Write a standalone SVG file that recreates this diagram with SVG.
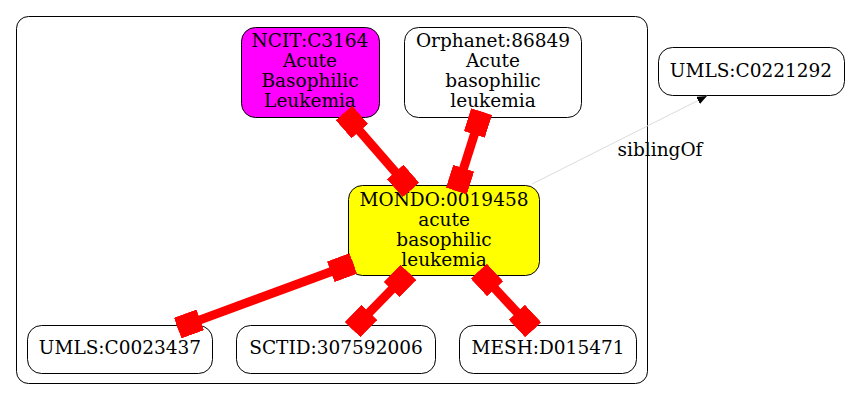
<svg xmlns="http://www.w3.org/2000/svg" width="851" height="400" viewBox="0 0 851 400">
<style>
text{font-family:"DejaVu Serif",serif;font-size:18.5px;text-anchor:middle;fill:#000}
.n{stroke:#000;stroke-width:1}
.e{stroke:#f00;stroke-width:9;fill:none}
</style>
<defs>
<marker id="blk" viewBox="-24 -11 24 22" markerWidth="24" markerHeight="22" refX="0" refY="0" orient="auto-start-reverse" markerUnits="userSpaceOnUse">
<rect x="-24" y="-11" width="24" height="22" fill="#f00"/>
</marker>
<marker id="arr" viewBox="-10 -4 10 8" markerWidth="10" markerHeight="8" refX="0" refY="0" orient="auto" markerUnits="userSpaceOnUse">
<path d="M-10,-4 L0,0 L-10,4 Z" fill="#000"/>
</marker>
</defs>
<rect x="16.5" y="16.5" width="631" height="367" rx="12" fill="none" stroke="#000" stroke-width="1"/>
<g id="ncit"><rect class="n" x="241.5" y="27.5" width="138" height="90" rx="14" fill="#f0f"/>
<text x="310" y="47">NCIT:C3164</text><text x="310" y="67">Acute</text><text x="310" y="87">Basophilic</text><text x="310" y="107">Leukemia</text></g>
<g id="orphanet"><rect class="n" x="404.5" y="27.5" width="177" height="90" rx="14" fill="#fff"/>
<text x="493" y="47">Orphanet:86849</text><text x="493" y="67">Acute</text><text x="493" y="87">basophilic</text><text x="493" y="107">leukemia</text></g>
<g id="mondo"><rect class="n" x="348.5" y="185.5" width="191" height="90" rx="14" fill="#ff0"/>
<text x="444" y="206">MONDO:0019458</text><text x="444" y="226">acute</text><text x="444" y="246">basophilic</text><text x="444" y="266">leukemia</text></g>
<g id="umls1"><rect class="n" x="27.5" y="325.5" width="185" height="48" rx="14" fill="#fff"/>
<text x="120" y="354">UMLS:C0023437</text></g>
<g id="sctid"><rect class="n" x="236.5" y="325.5" width="199" height="48" rx="14" fill="#fff"/>
<text x="336" y="354">SCTID:307592006</text></g>
<g id="mesh"><rect class="n" x="459.5" y="325.5" width="177" height="48" rx="14" fill="#fff"/>
<text x="548" y="354">MESH:D015471</text></g>
<g id="umls2"><rect class="n" x="658.5" y="47.5" width="186" height="48" rx="14" fill="#fff"/>
<text x="751" y="77">UMLS:C0221292</text></g>
<g id="edges">
<line class="e" x1="344" y1="113" x2="411" y2="190" marker-start="url(#blk)" marker-end="url(#blk)"/>
<line class="e" x1="481.6" y1="111.6" x2="456.4" y2="191" marker-start="url(#blk)" marker-end="url(#blk)"/>
<line class="e" x1="353.3" y1="263.5" x2="177.7" y2="328.1" marker-start="url(#blk)" marker-end="url(#blk)"/>
<line class="e" x1="408.4" y1="272.4" x2="352.6" y2="329.6" marker-start="url(#blk)" marker-end="url(#blk)"/>
<line class="e" x1="478.8" y1="271.2" x2="533.2" y2="329.8" marker-start="url(#blk)" marker-end="url(#blk)"/>
<line x1="532" y1="184" x2="707" y2="96" stroke="#dcdcdc" stroke-width="1" marker-end="url(#arr)"/>
<text x="660" y="156">siblingOf</text>
</g>
</svg>
